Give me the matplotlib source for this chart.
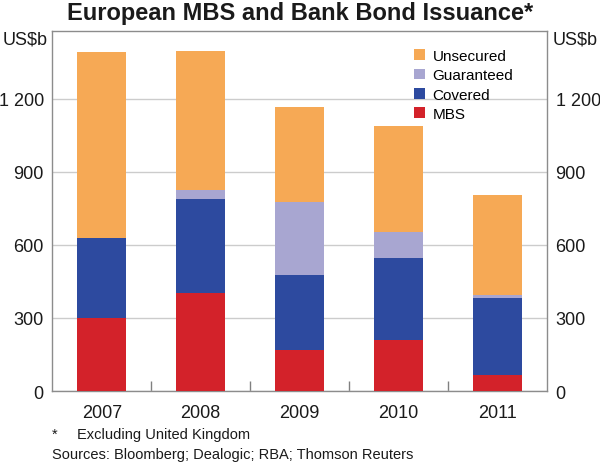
import numpy as np
import matplotlib.pyplot as plt
from matplotlib.patches import Patch

plt.rcParams['font.family'] = ['Liberation Sans', 'DejaVu Sans']

# Data (US$ billions)
years = ['2007', '2008', '2009', '2010', '2011']
mbs = [300, 403, 169, 210, 64]
covered = [327, 384, 307, 336, 319]
guaranteed = [0, 40, 302, 108, 12]
unsecured = [765, 568, 387, 434, 410]

series_names = ['MBS', 'Covered', 'Guaranteed', 'Unsecured']
series_values = [mbs, covered, guaranteed, unsecured]
colors = ['#d3222a', '#2d4a9f', '#a8a6d1', '#f6a955']

yticks = [0, 300, 600, 900, 1200]
ytick_labels = ['0', '300', '600', '900', '1 200']

fig = plt.figure(figsize=(6, 4.64), dpi=100)
ax = fig.add_axes([0.087, 0.155, 0.825, 0.776])

x = np.arange(len(years))
bottom = np.zeros(len(years))
for name, vals, col in zip(series_names, series_values, colors):
    ax.bar(x, vals, width=0.5, bottom=bottom, color=col, linewidth=0, zorder=3)
    bottom += np.array(vals)

ax.set_xlim(-0.5, len(years) - 0.5)
ax.set_ylim(0, 1478)

ax.set_yticks(yticks)
ax.set_yticklabels(ytick_labels)
ax.tick_params(axis='y', length=0, labelsize=13, pad=6, colors='#1a1a1a',
               labelright=True, right=False)
ax.grid(axis='y', color='#cccccc', linewidth=1, zorder=0)

ax.set_xticks(x)
ax.set_xticklabels(years)
ax.set_xticks(np.arange(0.5, len(years) - 0.5), minor=True)
ax.tick_params(axis='x', which='major', length=0, labelsize=13, pad=9, colors='#1a1a1a')
ax.tick_params(axis='x', which='minor', direction='in', length=7, width=1, color='#808080')

for s in ax.spines.values():
    s.set_color('#8c8c8c')
    s.set_linewidth(1)

# legend (top-down order as in the picture)
handles = [Patch(facecolor=c, edgecolor='none') for c in colors[::-1]]
ax.legend(handles, series_names[::-1], loc='upper left', bbox_to_anchor=(0.71, 0.98),
          frameon=False, fontsize=11, handlelength=0.7, handleheight=0.7,
          handletextpad=0.5, labelspacing=0.35, borderpad=0.2)

fig.text(0.5, 0.970, 'European MBS and Bank Bond Issuance*', ha='center', va='center',
         fontsize=17, fontweight='bold', color='#1a1a1a')
fig.text(0.004, 0.913, 'US$b', ha='left', va='center', fontsize=13, color='#1a1a1a')
fig.text(0.996, 0.913, 'US$b', ha='right', va='center', fontsize=13, color='#1a1a1a')

fig.text(0.087, 0.062, '*', ha='left', va='center', fontsize=10.5, color='#1a1a1a')
fig.text(0.128, 0.062, 'Excluding United Kingdom', ha='left', va='center', fontsize=10.5,
         color='#1a1a1a')
fig.text(0.087, 0.019, 'Sources: Bloomberg; Dealogic; RBA; Thomson Reuters', ha='left',
         va='center', fontsize=10.5, color='#1a1a1a')

fig.savefig('out.png', dpi=100)
